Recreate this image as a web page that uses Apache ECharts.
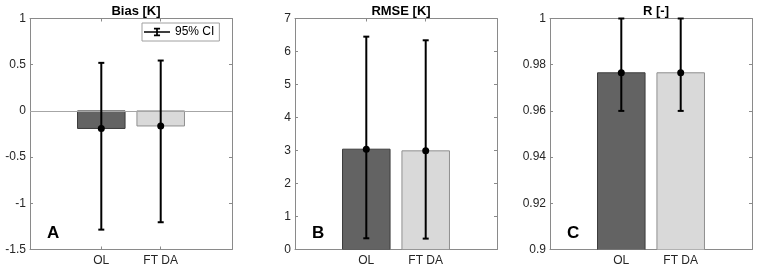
<!DOCTYPE html>
<html>
<head>
<meta charset="utf-8">
<script src="https://cdn.jsdelivr.net/npm/echarts@6/dist/echarts.min.js"></script>
<style>
  html, body { margin: 0; padding: 0; background: #fff; }
  #chart { width: 765px; height: 270px; }
</style>
</head>
<body>
<div id="chart"></div>
<script>
const categories = ["OL", "FT DA"];
const catPos = [1, 2];

const biasMean = [-0.19, -0.163];
const biasLow = [-1.285, -1.205];
const biasHigh = [0.52, 0.545];

const rmseMean = [3.04, 2.99];
const rmseLow = [0.34, 0.33];
const rmseHigh = [6.45, 6.34];

const rMean = [0.9765, 0.9765];
const rLow = [0.96, 0.96];
const rHigh = [1.0, 1.0];

const barColors = ["#636363", "#d9d9d9"];
const barEdges = ["#3c3c3c", "#8f8f8f"];
const axisGray = "#8a8a8a";
const font = "Liberation Sans, Arial, sans-serif";

const panels = [
  { title: "Bias [K]", letter: "A", left: 30, mean: biasMean, low: biasLow, high: biasHigh, min: -1.5, max: 1, interval: 0.5, dec: 1 },
  { title: "RMSE [K]", letter: "B", left: 295, mean: rmseMean, low: rmseLow, high: rmseHigh, min: 0, max: 7, interval: 1, dec: 0 },
  { title: "R [-]", letter: "C", left: 550, mean: rMean, low: rLow, high: rHigh, min: 0.9, max: 1, interval: 0.02, dec: 2 },
];

const gridW = 202, gridTop = 18.5, gridH = 231;

let grid = [], xAxis = [], yAxis = [], series = [], title = [];

panels.forEach((p, i) => {
  grid.push({ left: p.left, top: gridTop, width: gridW, height: gridH });
  title.push({
    text: p.title, left: p.left + gridW / 2, top: 0, textAlign: "center",
    textStyle: { fontFamily: font, fontSize: 13, fontWeight: "bold", color: "#000" },
  });
  title.push({
    text: p.letter, left: p.left + 12, top: 220,
    textStyle: { fontFamily: font, fontSize: 17, fontWeight: "bold", color: "#000" },
  });

  // bottom + top x axes
  xAxis.push({
    gridIndex: i, type: "value", min: -0.2, max: 3.2, position: "bottom",
    axisLine: { show: true, onZero: false, lineStyle: { color: axisGray } },
    axisTick: { show: true, inside: true, length: 3, customValues: catPos, lineStyle: { color: axisGray } },
    axisLabel: {
      customValues: catPos, margin: 5,
      formatter: (v) => categories[Math.round(v) - 1] || "",
      fontFamily: font, fontSize: 12, color: "#262626",
    },
    splitLine: { show: false },
  });
  xAxis.push({
    gridIndex: i, type: "value", min: -0.2, max: 3.2, position: "top",
    axisLine: { show: true, onZero: false, lineStyle: { color: axisGray } },
    axisTick: { show: true, inside: true, length: 3, customValues: catPos, lineStyle: { color: axisGray } },
    axisLabel: { show: false },
    splitLine: { show: false },
  });
  // left + right y axes
  yAxis.push({
    gridIndex: i, type: "value", min: p.min, max: p.max, interval: p.interval, position: "left",
    axisLine: { show: true, onZero: false, lineStyle: { color: axisGray } },
    axisTick: { show: true, inside: true, length: 3, lineStyle: { color: axisGray } },
    axisLabel: {
      formatter: (v) => String(parseFloat(v.toFixed(p.dec))),
      fontFamily: font, fontSize: 12, color: "#262626", margin: 4,
    },
    splitLine: { show: false },
  });
  yAxis.push({
    gridIndex: i, type: "value", min: p.min, max: p.max, interval: p.interval, position: "right",
    axisLine: { show: true, onZero: false, lineStyle: { color: axisGray } },
    axisTick: { show: true, inside: true, length: 3, lineStyle: { color: axisGray } },
    axisLabel: { show: false },
    splitLine: { show: false },
  });

  const xi = i * 2, yi = i * 2;

  // bars
  series.push({
    type: "custom", xAxisIndex: xi, yAxisIndex: yi, clip: true, z: 2,
    data: p.mean.map((m, k) => [catPos[k], m, k]),
    renderItem: (params, api) => {
      const x = api.value(0), y = api.value(1), k = api.value(2);
      const a = api.coord([x - 0.4, 0]);
      const b = api.coord([x + 0.4, y]);
      return {
        type: "rect",
        shape: { x: a[0], y: Math.min(a[1], b[1]), width: b[0] - a[0], height: Math.abs(b[1] - a[1]) },
        style: { fill: barColors[k], stroke: barEdges[k], lineWidth: 1 },
      };
    },
    markLine: i === 0 ? {
      silent: true, symbol: "none", label: { show: false },
      lineStyle: { color: "#a6a6a6", type: "solid", width: 1 },
      data: [{ yAxis: 0 }],
    } : undefined,
  });

  // error bars
  series.push({
    type: "custom", name: i === 0 ? "95% CI" : "ci" + i, xAxisIndex: xi, yAxisIndex: yi, z: 5,
    itemStyle: { color: "#000" },
    data: p.mean.map((m, k) => [catPos[k], m, p.low[k], p.high[k]]),
    renderItem: (params, api) => {
      const x = api.value(0);
      const c = api.coord([x, api.value(1)]);
      const lo = api.coord([x, api.value(2)]);
      const hi = api.coord([x, api.value(3)]);
      const st = { stroke: "#000", lineWidth: 2 };
      return {
        type: "group",
        children: [
          { type: "line", shape: { x1: lo[0], y1: lo[1], x2: hi[0], y2: hi[1] }, style: st },
          { type: "line", shape: { x1: lo[0] - 3, y1: lo[1], x2: lo[0] + 3, y2: lo[1] }, style: st },
          { type: "line", shape: { x1: hi[0] - 3, y1: hi[1], x2: hi[0] + 3, y2: hi[1] }, style: st },
          { type: "circle", shape: { cx: c[0], cy: c[1], r: 3.5 }, style: { fill: "#000" } },
        ],
      };
    },
  });
});

const chart = echarts.init(document.getElementById("chart"));
chart.setOption({
  animation: false,
  title: title,
  grid: grid,
  xAxis: xAxis,
  yAxis: yAxis,
  legend: {
    data: [{
      name: "95% CI",
      icon: "path://M0,4h30v2h-30z M14,0h2v10h-2z M11.5,0h7v2h-7z M11.5,8h7v2h-7z",
    }],
    left: 142, top: 23, padding: [3, 5, 3, 2],
    itemWidth: 26, itemHeight: 11,
    borderColor: "#a0a0a0", borderWidth: 1, backgroundColor: "#fff",
    selectedMode: false,
    textStyle: { fontFamily: font, fontSize: 12, color: "#000" },
  },
  series: series,
});
</script>
</body>
</html>
